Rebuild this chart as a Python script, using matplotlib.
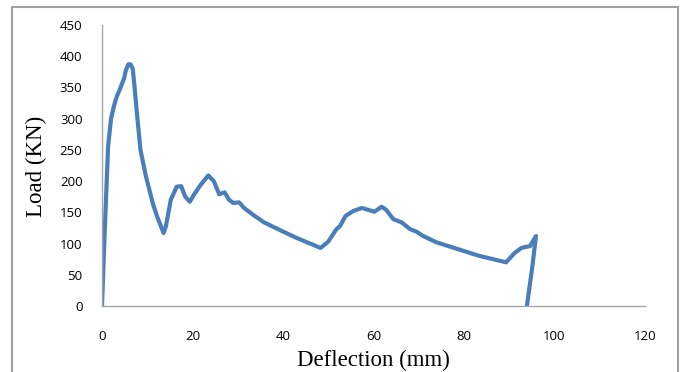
import matplotlib
matplotlib.use("Agg")
import matplotlib.pyplot as plt
from matplotlib.patches import Rectangle

# Deflection (mm) and Load (KN)
deflection = [0, 0.6, 1.35, 2.0, 2.7, 3.3, 4.0, 4.9, 5.3, 5.8, 6.3, 6.8, 7.2, 7.7, 8.5, 9.7,
              11.2, 12.2, 13.6, 14.1, 15.2, 16.5, 17.5, 18.4, 19.4, 20.3, 21.8,
              23.5, 24.7, 25.9, 27.1, 28.1, 29.0, 30.3, 31.4, 33.4, 35.8, 39.2,
              43.0, 48.3, 50.0, 51.7, 52.6, 53.8, 55.5, 57.4, 60.2, 61.8, 62.8,
              64.4, 66.2, 68.1, 69.5, 71.0, 73.9, 78.7, 83.5, 89.3, 91.2, 92.7,
              94.6, 95.9, 95.1, 93.9]
load = [0, 120, 256, 300, 322, 336, 348, 365, 378, 387, 387, 380, 350, 310, 250, 208,
        165, 143, 117, 127, 170, 191, 192, 175, 167, 178, 194,
        209, 200, 179, 182, 170, 165, 166, 157, 146, 134, 122,
        109, 93, 103, 122, 128, 144, 152, 157, 151, 159, 154,
        139, 134, 123, 119, 112, 102, 91, 80, 70, 85, 93,
        96, 112, 63, 0]

x_ticks = [0, 20, 40, 60, 80, 100, 120]
y_ticks = [0, 50, 100, 150, 200, 250, 300, 350, 400, 450]

fig = plt.figure(figsize=(6.83, 3.72), dpi=100)
ax = fig.add_axes([102/683, 1-306/372, (645-102)/683, (306-25)/372])

ax.plot(deflection, load, color="#4A7EBB", lw=3.0, solid_joinstyle="round",
        solid_capstyle="round")

ax.set_xlim(0, 120)
ax.set_ylim(0, 450)
ax.set_xticks(x_ticks)
ax.set_yticks(y_ticks)
tick_font = {"family": ["Open Sans", "DejaVu Sans"], "size": 9.5}
ax.set_xticklabels([str(t) for t in x_ticks], fontdict=tick_font)
ax.set_yticklabels([str(t) for t in y_ticks], fontdict=tick_font)
ax.tick_params(length=0, pad=17, axis="x")
ax.tick_params(length=0, pad=14, axis="y")
for s in ["top", "right"]:
    ax.spines[s].set_visible(False)
for s in ["left", "bottom"]:
    ax.spines[s].set_color("#A6A6A6")
    ax.spines[s].set_linewidth(1.0)

fig.text(373/683, 1-360/372, "Deflection (mm)", ha="center", va="center",
         family="Liberation Serif", fontsize=16.5)
fig.text(36/683, 1-166/372, "Load (KN)", ha="center", va="center",
         rotation=90, family="Liberation Serif", fontsize=16.5)

fig.patches.append(Rectangle((12/683, -0.05), (678-12)/683, 1.05-7/372,
                             transform=fig.transFigure, fill=False,
                             edgecolor="#A0A0A0", lw=1.5))

fig.savefig("out.png", dpi=100)
